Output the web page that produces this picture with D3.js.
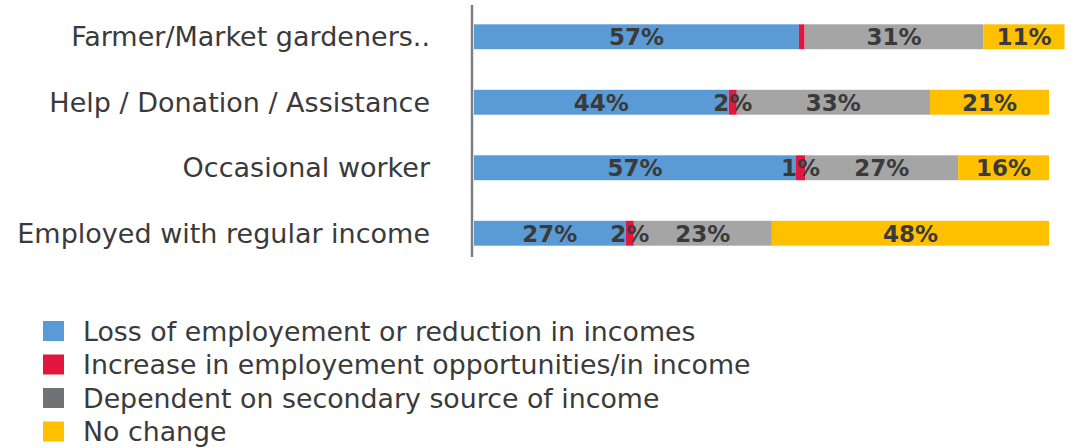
<!DOCTYPE html>
<html>
<head>
<meta charset="utf-8">
<script src="https://cdn.jsdelivr.net/npm/d3@7.9.0/dist/d3.min.js"></script>
<style>
  html, body { margin: 0; padding: 0; background: #fff; }
  svg { display: block; }
  text { font-family: "DejaVu Sans", Verdana, sans-serif; }
</style>
</head>
<body>
<svg id="chart" width="1078" height="448"></svg>
<script>
// categories, top to bottom
const categories = [
  'Farmer/Market gardeners..',
  'Help / Donation / Assistance',
  'Occasional worker',
  'Employed with regular income'
];

const seriesNames = [
  'Loss of employement or reduction in incomes',
  'Increase in employement opportunities/in income',
  'Dependent on secondary source of income',
  'No change'
];

// segment sizes (%) as drawn
const lossValues     = [56.5, 44.3, 56.0, 26.4];
const increaseValues = [1.0, 1.4, 1.6, 1.4];
const dependValues   = [31.1, 33.6, 26.6, 24.0];
const noChangeValues = [14.1, 20.7, 15.8, 48.2];

// data labels printed on the bars
const lossLabels     = ['57%', '44%', '57%', '27%'];
const increaseLabels = ['', '2%', '1%', '2%'];
const dependLabels   = ['31%', '33%', '27%', '23%'];
const noChangeLabels = ['11%', '21%', '16%', '48%'];

const colors = ['#5b9bd5', '#e3173e', '#a5a5a5', '#ffc000'];
const legendColors = ['#5b9bd5', '#e3173e', '#707275', '#ffc000'];

const keys = ['loss', 'increase', 'depend', 'noChange'];
const table = categories.map((c, i) => ({
  category: c,
  loss: lossValues[i],
  increase: increaseValues[i],
  depend: dependValues[i],
  noChange: noChangeValues[i],
  labels: [lossLabels[i], increaseLabels[i], dependLabels[i], noChangeLabels[i]]
}));

const svg = d3.select('#chart');

const x = d3.scaleLinear().domain([0, 100]).range([474, 1049]);
const y = d3.scaleBand()
  .domain(categories)
  .range([4, 266])
  .paddingInner(0.62)
  .paddingOuter(0.31);

const stack = d3.stack().keys(keys);
const series = stack(table);

const layers = svg.append('g')
  .selectAll('g')
  .data(series)
  .join('g')
  .attr('fill', (d, i) => colors[i]);

layers.selectAll('rect')
  .data(d => d)
  .join('rect')
  .attr('x', d => x(d[0]))
  .attr('width', d => x(d[1]) - x(d[0]))
  .attr('y', d => y(d.data.category))
  .attr('height', y.bandwidth());

// data labels
const labelGroup = svg.append('g');
series.forEach((s, si) => {
  labelGroup.selectAll(null)
    .data(s)
    .join('text')
    .attr('x', d => (x(d[0]) + x(d[1])) / 2)
    .attr('y', d => y(d.data.category) + y.bandwidth() / 2)
    .attr('dy', '0.36em')
    .attr('text-anchor', 'middle')
    .attr('font-size', 23)
    .attr('font-weight', 'bold')
    .attr('fill', '#3a3a3a')
    .text(d => d.data.labels[si]);
});

// vertical category axis
const yAxis = svg.append('g')
  .attr('transform', 'translate(472,0)')
  .call(d3.axisLeft(y).tickSize(0).tickPadding(42));
yAxis.select('.domain')
  .attr('d', 'M0,5V257')
  .attr('stroke', '#7f7f7f')
  .attr('stroke-width', 2.5);
yAxis.selectAll('text')
  .attr('font-size', 27)
  .attr('fill', '#3a3a3a')
  .attr('dy', '0.36em')
  .style('font-family', '"DejaVu Sans", Verdana, sans-serif');

// legend
const legend = svg.append('g')
  .selectAll('g')
  .data(seriesNames)
  .join('g')
  .attr('transform', (d, i) => `translate(43, ${331 + i * 33.5})`);

legend.append('rect')
  .attr('x', 0)
  .attr('y', -10)
  .attr('width', 21)
  .attr('height', 20)
  .attr('fill', (d, i) => legendColors[i]);

legend.append('text')
  .attr('x', 40)
  .attr('dy', '0.36em')
  .attr('font-size', 26.8)
  .attr('fill', '#3a3a3a')
  .text(d => d);
</script>
</body>
</html>
